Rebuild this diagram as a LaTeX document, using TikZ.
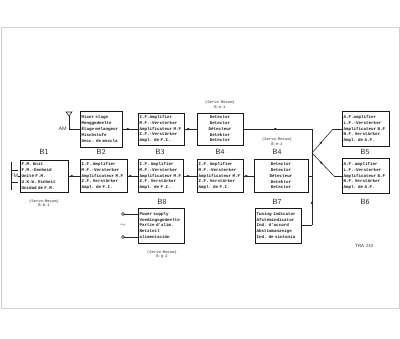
\documentclass[tikz,border=0pt]{standalone}
\usepackage{fontspec}
\newfontfamily\boxfontfam{Liberation Mono}
\usetikzlibrary{arrows.meta,decorations.markings}
\newcommand{\boxfont}{\boxfontfam\bfseries\fontsize{4.2}{5.8}\selectfont}
\newcommand{\smallfont}{\boxfontfam\fontsize{3.8}{4.6}\selectfont}
\tikzset{
  blk/.style={draw=black!90, line width=0.75pt, inner xsep=1.5pt, inner ysep=1pt, font=\boxfont, align=left, text=black!90},
  blkc/.style={blk, align=center},
  lbl/.style={font=\sffamily\fontsize{7.5}{8}\selectfont, text=black!85},
  srv/.style={font=\smallfont, align=center, text=black!85},
  wire/.style={draw=black!85, line width=0.6pt},
  midarrow/.style={wire, postaction={decorate}, decoration={markings, mark=at position 0.5 with {\arrow{Latex[length=3.2pt,width=2.6pt]}}}}
}
\begin{document}
\begin{tikzpicture}[x=1pt,y=-1pt]
\useasboundingbox (0,0) rectangle (400,339);
\draw[black!18, line width=1pt] (1,28) rectangle (399,309);

% boxes
\node[blk, text width=45pt, minimum height=32pt] (b1) at (44,176) {F.M. Unit\\F.M.-Eenheid\\Unité F.M.\\U.K.W. Einheit\\Unidad de F.M.};
\node[blk, text width=39pt, minimum height=36pt] (b2a) at (101,129) {Mixer stage\\Menggedeelte\\Étage mélangeur\\Mischstufe\\Secc. de mezcla};
\node[blk, text width=43pt, minimum height=32pt] (b3a) at (161,129) {I.F.Amplifier\\M.F.-Versterker\\Amplificateur M.F\\Z.F.-Verstärker\\Ampl. de F.I.};
\node[blkc, text width=43pt, minimum height=32pt] (b4a) at (220,129) {Detector\\Detector\\Détecteur\\Detektor\\Detector};
\node[blk, text width=44pt, minimum height=33pt] (b2b) at (103.5,176) {I.F. Amplifier\\M.F.-Versterker\\Amplificateur M.F\\Z.F. Verstärker\\Ampl. de F.I.};
\node[blk, text width=42pt, minimum height=33pt] (b3b) at (160.5,176) {I.F. Amplifier\\M.F.-Versterker\\Amplificateur M.F\\Z.F. Verstärker\\Ampl. de F.I.};
\node[blk, text width=43pt, minimum height=33pt] (b4b) at (220,176) {I.F. Amplifier\\M.F.-Versterker\\Amplificateur M.F\\Z.F. Verstärker\\Ampl. de F.I.};
\node[blkc, text width=51pt, minimum height=33pt] (b4c) at (281,176) {Detector\\Detector\\Détecteur\\Detektor\\Detector};
\node[blk, text width=44pt, minimum height=35pt] (b5) at (365.5,129) {A.F.amplifier\\L.F.-Versterker\\Amplificateur B.F\\N.F. Verstärker\\Ampl. de A.F.};
\node[blk, text width=44pt, minimum height=35pt] (b6) at (365.5,176) {A.F. amplifier\\L.F.-Versterker\\Amplificateur B.F\\N.F. Verstärker\\Ampl. de A.F.};
\node[blk, text width=43pt, minimum height=35pt] (b7) at (278,225.5) {Tuning indicator\\Afstemindicator\\Ind. d'accord\\Abstimmanzeige\\Ind. de sintonía};
\node[blk, text width=43pt, minimum height=35pt] (b8) at (161,225.5) {Power supply\\Voedingsgedeelte\\Partie d'alim.\\Netzteil\\alimentación};

% labels
\node[lbl] (l1) at (44,152) {B1};
\node[lbl] (l2) at (101,152) {B2};
\node[lbl] (l3) at (160,152) {B3};
\node[lbl] (l4) at (220,152) {B4};
\node[lbl] (l4c) at (277,152) {B4};
\node[lbl] (l5) at (365,152) {B5};
\node[lbl] (l6) at (365,202) {B6};
\node[lbl] (l7) at (277,202) {B7};
\node[lbl] (l8) at (162,202) {B8};
\node[srv] (s1) at (44,203) {(Servo-Mecum)\\B-b-1};
\node[srv] (s4) at (220,104.5) {(Servo-Mecum)\\B-e-1};
\node[srv] (s4c) at (277,141.5) {(Servo-Mecum)\\B-e-2};
\node[srv] (s8) at (162,254.5) {(Servo-Mecum)\\B-g-2};
\node[font=\sffamily\fontsize{4.5}{5}\selectfont, text=black!85] (tra) at (364,246) {TRA 232};

% AM antenna
\coordinate (amtop) at (69,116);
\coordinate (amc) at (69,129);
\draw[wire] (66,112) -- (72,112) -- (amtop) -- cycle;
\draw[wire] (amtop) -- (amc) -- (b2a.west);
\node[font=\sffamily\fontsize{5}{6}\selectfont, text=black!85, anchor=east, inner sep=0.5pt] (am) at (67.5,129) {AM};

% FM dipole
\draw[wire] (11,162) -- (11,190);
\draw[wire] (11,170) -- (18,170);
\draw[wire] (11,182) -- (18,182);
\node[font=\sffamily\fontsize{5}{6}\selectfont, text=black!85, inner sep=0.5pt] (fm) at (14.5,176) {FM};
\coordinate (fmo) at (17.5,176);
\draw[wire] (fmo) -- (b1.west);

% signal chain
\draw[midarrow] (b1.east) -- (b2b.west);
\draw[midarrow] (b2b.east) -- (b3b.west);
\draw[midarrow] (b3b.east) -- (b4b.west);
\draw[midarrow] (b4b.east) -- (b4c.west);
\draw[midarrow] (b2a.east) -- (b3a.west);
\draw[midarrow] (b3a.east) -- (b4a.west);

\coordinate (ja) at (312,129);
\coordinate (f) at (312,153);
\coordinate (jb) at (312,176);
\coordinate (jc) at (312,225.5);
\coordinate (k5) at (333,129);
\coordinate (k6) at (334,176);
\draw[midarrow] (b4a.east) -- (ja);
\draw[wire] (ja) -- (f);
\draw[wire] (b4c.east) -- (jb);
\draw[midarrow] (f) -- (k5);
\draw[wire] (k5) -- (b5.west);
\draw[midarrow] (f) -- (k6);
\draw[wire] (k6) -- (b6.west);
\draw[wire] (f) -- (jb);
\draw[midarrow] (jc) -- (jb);
\draw[wire] (b7.east) -- (jc);

% power supply terminals
\coordinate (t1) at (123,214);
\coordinate (t2) at (123,237);
\draw[wire] (t1) -- (b8.west |- t1);
\draw[wire] (t2) -- (b8.west |- t2);
\draw[wire, fill=white] (t1) circle (1.5pt);
\draw[wire, fill=white] (t2) circle (1.5pt);
\node[font=\sffamily\fontsize{6}{6}\selectfont, text=black!85] (tilde) at (123,225.5) {$\sim$};
\end{tikzpicture}
\end{document}
